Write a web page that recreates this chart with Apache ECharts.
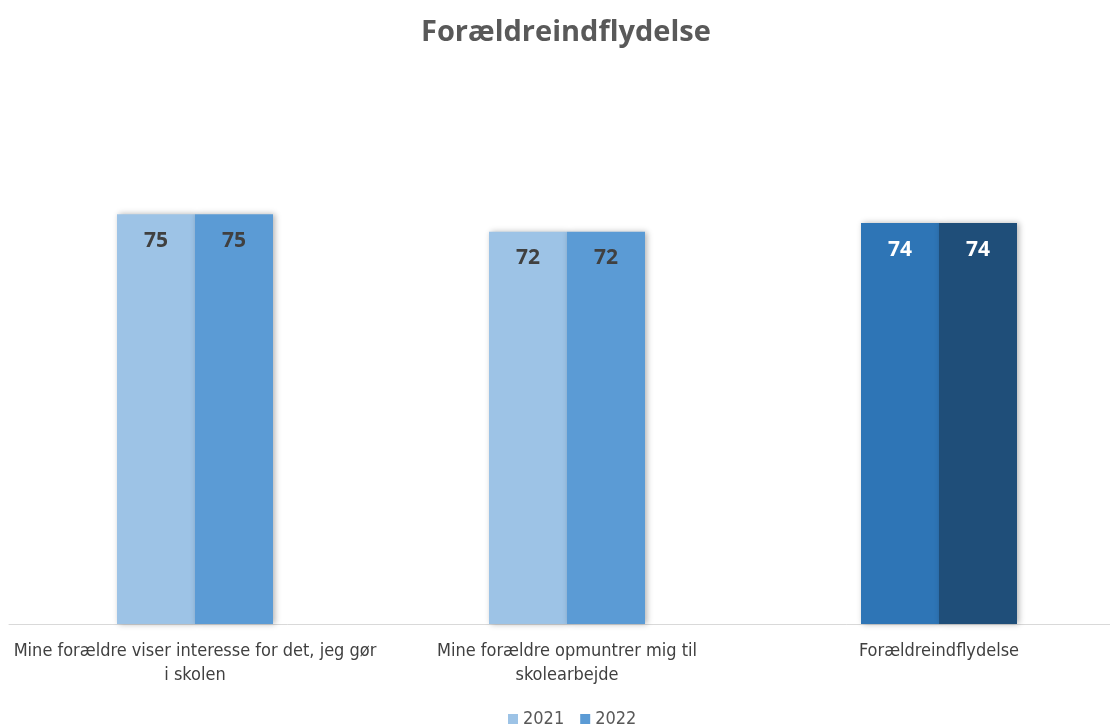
<!DOCTYPE html>
<html><head><meta charset="utf-8">
<script src="https://cdn.jsdelivr.net/npm/echarts@6/dist/echarts.min.js"></script>
<style>html,body{margin:0;padding:0;background:#fff;overflow:hidden}#c{width:1125px;height:727px}</style>
</head><body><div id="c"></div>
<script>
const title = 'Forældreindflydelse';
const categories = ['Mine forældre viser interesse for det, jeg gør\ni skolen', 'Mine forældre opmuntrer mig til\nskolearbejde', 'Forældreindflydelse'];
const seriesNames = ['2021', '2022'];
const values2021 = [75.3, 72.1, 73.7];
const values2022 = [75.3, 72.1, 73.7];
const colors2021 = ['#9DC3E6', '#9DC3E6', '#2E75B6'];
const colors2022 = ['#5B9BD5', '#5B9BD5', '#1F4E79'];
const labelColors = ['#404040', '#404040', '#FFFFFF'];

const font = '"Liberation Sans Narrow", "DejaVu Sans Condensed", "Liberation Sans", sans-serif';
function mkData(vals, cols) {
  return vals.map((v, i) => ({
    value: v,
    itemStyle: { color: cols[i] },
    label: { color: labelColors[i] }
  }));
}
const common = {
  type: 'bar',
  barWidth: 78,
  barGap: '0%',
  itemStyle: { shadowBlur: 6, shadowColor: 'rgba(0,0,0,0.3)', shadowOffsetX: 2, shadowOffsetY: 0 },
  label: { show: true, position: 'insideTop', distance: 16, fontSize: 21, fontWeight: 'bold',
    fontFamily: '"Open Sans", "Liberation Sans", sans-serif', formatter: p => Math.round(p.value) },
  emphasis: { disabled: true }
};
const chart = echarts.init(document.getElementById('c'));
chart.setOption({
  animation: false,
  title: { text: title, left: 416, top: 13,
    textStyle: { fontSize: 29, fontWeight: 'bold', color: '#595959', fontFamily: '"Open Sans", "Liberation Sans", sans-serif' } },
  legend: { left: 503, bottom: -6, itemWidth: 10, itemHeight: 10, itemGap: 16, icon: 'rect',
    textStyle: { fontSize: 18, color: '#595959', fontFamily: font },
    data: [{ name: '2021', itemStyle: { color: '#9DC3E6' } }, { name: '2022', itemStyle: { color: '#5B9BD5' } }] },
  grid: { left: 9, right: 0, top: 80, bottom: 103, containLabel: false },
  xAxis: { type: 'category', data: categories,
    axisLine: { lineStyle: { color: '#D9D9D9', width: 1 } },
    axisTick: { show: false },
    axisLabel: { fontSize: 18, color: '#404040', fontFamily: font, lineHeight: 24, margin: 15, interval: 0 } },
  yAxis: { type: 'value', min: 0, max: 100, show: false, splitLine: { show: false } },
  series: [
    Object.assign({}, common, { name: seriesNames[0], data: mkData(values2021, colors2021) }),
    Object.assign({}, common, { name: seriesNames[1], data: mkData(values2022, colors2022) })
  ]
});
</script></body></html>
